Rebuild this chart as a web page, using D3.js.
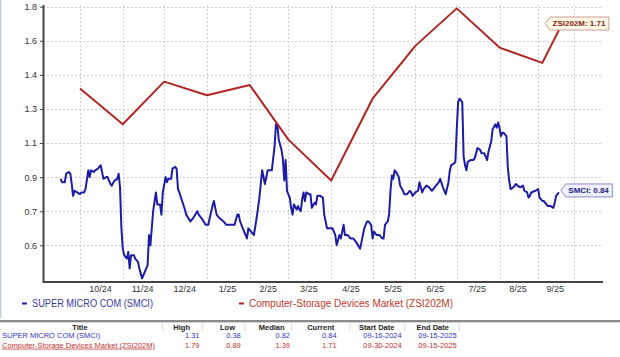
<!DOCTYPE html>
<html><head><meta charset="utf-8">
<script src="https://cdn.jsdelivr.net/npm/d3@7"></script>
<style>body{margin:0;background:#fff}svg{display:block;font-family:"Liberation Sans",Arial,sans-serif}</style>
</head><body>
<script>
// ---------- data ----------
const smciDates = ["24-09-16","24-09-17","24-09-19","24-09-20","24-09-22","24-09-23","24-09-24","24-09-25","24-09-26","24-09-28","24-09-30",
"24-10-01","24-10-03","24-10-04","24-10-06","24-10-07","24-10-08","24-10-10","24-10-11","24-10-13","24-10-15","24-10-16","24-10-17","24-10-19","24-10-20","24-10-22","24-10-23","24-10-25","24-10-27","24-10-28","24-10-29","24-10-30","24-10-31",
"24-11-01","24-11-03","24-11-04","24-11-05","24-11-06","24-11-08","24-11-09","24-11-11","24-11-12","24-11-14","24-11-15","24-11-17","24-11-18","24-11-19","24-11-20","24-11-21","24-11-22","24-11-24","24-11-25","24-11-27","24-11-28","24-11-29",
"24-12-01","24-12-02","24-12-03","24-12-05","24-12-06","24-12-08","24-12-09","24-12-10","24-12-11","24-12-13","24-12-15","24-12-16","24-12-19","24-12-21","24-12-24","24-12-25","24-12-27","24-12-30",
"25-01-01","25-01-02","25-01-04","25-01-05","25-01-07","25-01-09","25-01-12","25-01-14","25-01-15","25-01-18","25-01-20","25-01-22","25-01-23","25-01-24","25-01-26","25-01-28","25-01-29","25-01-30",
"25-02-01","25-02-03","25-02-05","25-02-07","25-02-09","25-02-11","25-02-13","25-02-15","25-02-16","25-02-18","25-02-19","25-02-20","25-02-21","25-02-23","25-02-24","25-02-25","25-02-26","25-02-27",
"25-03-01","25-03-02","25-03-03","25-03-04","25-03-06","25-03-07","25-03-08","25-03-09","25-03-10","25-03-11","25-03-12","25-03-13","25-03-15","25-03-16","25-03-17","25-03-19","25-03-20","25-03-21","25-03-23","25-03-25","25-03-26","25-03-28","25-03-30",
"25-04-01","25-04-03","25-04-04","25-04-06","25-04-07","25-04-09","25-04-10","25-04-12","25-04-14","25-04-16","25-04-18","25-04-21","25-04-22","25-04-24","25-04-26","25-04-27","25-04-29","25-04-30",
"25-05-01","25-05-03","25-05-05","25-05-07","25-05-08","25-05-09","25-05-11","25-05-12","25-05-13","25-05-14","25-05-15","25-05-16","25-05-17","25-05-19","25-05-20","25-05-22","25-05-23","25-05-25","25-05-27","25-05-28","25-05-29","25-05-31",
"25-06-02","25-06-03","25-06-05","25-06-06","25-06-08","25-06-10","25-06-12","25-06-14","25-06-15","25-06-17","25-06-18","25-06-20","25-06-22","25-06-24","25-06-25","25-06-26","25-06-28","25-06-29","25-06-30",
"25-07-01","25-07-02","25-07-04","25-07-05","25-07-06","25-07-07","25-07-08","25-07-10","25-07-12","25-07-13","25-07-15","25-07-17","25-07-18","25-07-20","25-07-22","25-07-23","25-07-25","25-07-26","25-07-28","25-07-29","25-07-30","25-07-31",
"25-08-01","25-08-02","25-08-03","25-08-05","25-08-06","25-08-07","25-08-08","25-08-10","25-08-12","25-08-13","25-08-15","25-08-17","25-08-18","25-08-20","25-08-21","25-08-22","25-08-23","25-08-26","25-08-28","25-08-29","25-08-31",
"25-09-01","25-09-03","25-09-04","25-09-06","25-09-08","25-09-09","25-09-10","25-09-12"];
const smciValues = [0.89,0.87,0.87,0.92,0.93,0.92,0.86,0.79,0.82,0.81,0.80,
0.81,0.81,0.83,0.94,0.90,0.94,0.93,0.94,0.95,0.97,0.93,0.89,0.90,0.90,0.86,0.85,0.88,0.89,0.92,0.84,0.65,0.59,
0.57,0.56,0.58,0.53,0.57,0.57,0.56,0.55,0.53,0.50,0.51,0.53,0.54,0.63,0.60,0.65,0.70,0.81,0.74,0.74,0.69,0.81,
0.90,0.87,0.89,0.89,0.95,0.96,0.95,0.83,0.81,0.76,0.71,0.69,0.67,0.68,0.70,0.69,0.68,0.66,
0.66,0.68,0.73,0.76,0.69,0.68,0.67,0.66,0.66,0.66,0.66,0.69,0.69,0.67,0.65,0.63,0.62,0.65,
0.64,0.63,0.68,0.78,0.94,0.86,0.94,0.94,0.94,1.08,1.21,1.21,1.12,1.06,1.01,0.88,1.00,0.82,
0.78,0.72,0.69,0.74,0.71,0.73,0.71,0.70,0.77,0.81,0.76,0.81,0.80,0.80,0.72,0.75,0.74,0.79,0.79,0.78,0.69,0.65,0.65,
0.65,0.63,0.60,0.63,0.62,0.66,0.63,0.63,0.62,0.62,0.61,0.59,0.61,0.65,0.67,0.67,0.66,0.62,
0.64,0.63,0.63,0.62,0.62,0.66,0.67,0.69,0.82,0.91,0.89,0.94,0.93,0.90,0.85,0.82,0.80,0.80,0.82,0.81,0.79,0.81,
0.82,0.87,0.81,0.83,0.85,0.84,0.82,0.84,0.85,0.87,0.89,0.84,0.80,0.87,0.94,0.97,0.98,0.99,1.18,
1.32,1.33,1.32,1.02,0.97,0.94,0.99,1.00,1.00,1.01,1.07,1.06,1.04,1.04,1.00,1.05,1.11,1.18,1.21,1.19,1.22,1.19,
1.14,1.16,1.16,1.14,0.96,0.88,0.83,0.84,0.86,0.85,0.84,0.85,0.82,0.81,0.78,0.79,0.81,0.82,0.83,0.78,0.76,
0.76,0.74,0.73,0.73,0.72,0.75,0.79,0.81];

const zsiDates = ["24-09-30","24-10-31","24-11-30","24-12-31","25-01-31","25-02-28","25-03-31","25-04-30","25-05-31","25-06-30","25-07-31","25-08-31","25-09-15"];
const zsiValues = [1.36,1.21,1.38,1.34,1.37,1.12,0.88,1.33,1.57,1.79,1.56,1.47,1.71];

const yTicks = [0.6,0.7,0.9,1.1,1.3,1.4,1.6,1.8];
const yFloor = 0.49;
const gridDates = ["24-09-30","24-10-31","24-11-30","24-12-31","25-01-31","25-02-28","25-03-31","25-04-30","25-05-31","25-06-30","25-07-31","25-08-28","25-09-23"];
const xLabels = ["10/24","11/24","12/24","1/25","2/25","3/25","4/25","5/25","6/25","7/25","8/25","9/25"];

const seriesNames = ["SUPER MICRO COM (SMCI)","Computer-Storage Devices Market (ZSI202M)"];
const seriesShort = ["SMCI","ZSI202M"];
const tableHeaders = ["Title","High","Low","Median","Current","Start Date","End Date"];
const highs = ["1.31","1.79"];
const lows = ["0.38","0.89"];
const medians = ["0.82","1.39"];
const currents = ["0.84","1.71"];
const startDates = ["09-16-2024","09-30-2024"];
const endDates = ["09-15-2025","09-15-2025"];

// ---------- layout ----------
const W = 620, H = 357;
const P = {left:43, right:602, top:5, bottom:282};
const parse = d3.utcParse("%y-%m-%d");
const blue = "#1c1ca8", red = "#b32424";

const svg = d3.select("body").append("svg").attr("width", W).attr("height", H);
svg.append("rect").attr("width", W).attr("height", H).attr("fill", "#fff");
svg.append("line").attr("x1",0.75).attr("x2",0.75).attr("y1",0).attr("y2",318)
  .attr("stroke","#c4cfdc").attr("stroke-width",1.5);

const x = d3.scaleUtc().domain([parse("24-09-30"), parse("25-09-15")]).range([80, 563]);
const yStep = 34.09, y06 = 245.3;
const y = d3.scaleLinear()
  .domain([yFloor, ...yTicks])
  .range([P.bottom - 0.3, ...yTicks.map((t, i) => y06 - i * yStep)]);

// grid
const grid = svg.append("g").attr("stroke", "#cfcfcf").attr("stroke-dasharray", "2,2").attr("stroke-width", 1);
grid.selectAll(".h").data(yTicks).join("line")
  .attr("x1", P.left).attr("x2", P.right)
  .attr("y1", d => Math.round(y(d)) + 0.5).attr("y2", d => Math.round(y(d)) + 0.5);
const gd = gridDates.map(parse);
grid.selectAll(".v").data(gd).join("line")
  .attr("x1", d => Math.round(x(d)) + 0.5).attr("x2", d => Math.round(x(d)) + 0.5)
  .attr("y1", P.top).attr("y2", P.bottom);

// axes
const yAxis = svg.append("g").attr("transform", `translate(${P.left},0)`)
  .call(d3.axisLeft(y).tickValues(yTicks).tickSize(3).tickSizeOuter(0).tickPadding(3).tickFormat(d3.format(".1f")));
yAxis.select(".domain").remove();
yAxis.selectAll(".tick line").attr("stroke", "#444");
yAxis.selectAll("text").attr("font-size", 9).attr("fill", "#333").attr("font-family", "Liberation Sans, Arial, sans-serif");

const mids = gd.slice(0, -1).map((d, i) => new Date((+d + +gd[i + 1]) / 2 - 86400000));
const xAxis = svg.append("g").attr("transform", `translate(0,${P.bottom})`)
  .call(d3.axisBottom(x).tickValues(mids).tickSize(0).tickPadding(4).tickFormat((d, i) => xLabels[i]));
xAxis.select(".domain").remove();
xAxis.selectAll("text").attr("font-size", 9).attr("fill", "#333").attr("font-family", "Liberation Sans, Arial, sans-serif");

svg.append("line").attr("x1", P.left + 0.5).attr("x2", P.left + 0.5).attr("y1", P.top).attr("y2", P.bottom + 1)
  .attr("stroke", "#444").attr("stroke-width", 2);
svg.append("line").attr("x1", P.left).attr("x2", 603).attr("y1", P.bottom).attr("y2", P.bottom)
  .attr("stroke", "#444").attr("stroke-width", 2);

// series
const smci = smciDates.map((d, i) => ({date: parse(d), v: smciValues[i]}));
const zsi = zsiDates.map((d, i) => ({date: parse(d), v: zsiValues[i]}));
const line = d3.line().x(d => x(d.date)).y(d => y(d.v));
svg.append("path").datum(smci).attr("d", line).attr("fill", "none").attr("stroke", blue)
  .attr("stroke-width", 2).attr("stroke-linejoin", "round");
svg.append("path").datum(zsi).attr("d", line).attr("fill", "none").attr("stroke", red)
  .attr("stroke-width", 2).attr("stroke-linejoin", "round");

// callouts
function callout(tx, ty, text, fill, stroke, color) {
  const g = svg.append("g");
  const path = g.append("path");
  const t = g.append("text").attr("x", tx + 7.5).attr("y", ty).attr("dy", "0.34em")
    .attr("font-size", 8).attr("font-weight", "bold").attr("fill", color).text(text);
  const w = t.node().getComputedTextLength();
  const r = tx + 7.5 + w + 3.5;
  path.attr("d", `M${tx},${ty} L${tx + 5},${ty - 6.5} H${r} V${ty + 6.5} H${tx + 5} Z`)
    .attr("fill", fill).attr("stroke", stroke).attr("stroke-width", 1);
}
const lastS = smci[smci.length - 1], lastZ = zsi[zsi.length - 1];
callout(x(lastS.date) + 2, y(lastS.v) - 2, `${seriesShort[0]}: ${currents[0]}`, "#eef0ff", "#8c8cc8", "#23237a");
callout(x(lastZ.date) - 18, y(lastZ.v) + 1.5, `${seriesShort[1]}: ${currents[1]}`, "#fffbe4", "#d09a9a", "#8a1c1c");

// legend
const legColors = ["#3a3aa0", "#c0392b"];
const legX = [22, 239];
seriesNames.forEach((n, i) => {
  svg.append("line").attr("x1", legX[i]).attr("x2", legX[i] + 5).attr("y1", 303.5).attr("y2", 303.5)
    .attr("stroke", i ? red : blue).attr("stroke-width", 2);
  const t = svg.append("text").attr("x", legX[i] + 10).attr("y", 307).attr("font-size", 10)
    .attr("fill", legColors[i]).text(n);
  if (i === 0) t.attr("textLength", 121).attr("lengthAdjust", "spacingAndGlyphs");
});

// table
svg.append("rect").attr("x", 0).attr("y", 320).attr("width", W).attr("height", 2).attr("fill", "#8a8a8a");
svg.append("rect").attr("x", 0).attr("y", 322).attr("width", W).attr("height", 1).attr("fill", "#d2d2d2");
const sepX = [162.7, 202.3, 245, 291.7, 350, 405, 459.3];
svg.selectAll(".sep").data(sepX).join("line")
  .attr("x1", d => d).attr("x2", d => d).attr("y1", 323).attr("y2", 331)
  .attr("stroke", "#dddddd").attr("stroke-width", 1);
const headX = [80, 181.7, 227.5, 271.7, 320.7, 376.7, 432.7];
svg.selectAll(".hd").data(tableHeaders).join("text")
  .attr("x", (d, i) => headX[i]).attr("y", 329.5).attr("text-anchor", "middle")
  .attr("font-size", 7.5).attr("font-weight", "bold").attr("fill", "#222").text(d => d);
const cols = [highs, lows, medians, currents, startDates, endDates];
const colRight = [199.5, 240.8, 290, 336.7, 401.7, 456.7];
const rowY = [338.4, 347.7];
const rowColors = ["#3434c8", "#c43030"];
seriesNames.forEach((n, r) => {
  const t = svg.append("text").attr("x", 2).attr("y", rowY[r]).attr("font-size", 7.5)
    .attr("fill", rowColors[r]).text(n);
  if (r === 1) t.attr("text-decoration", "underline");
  cols.forEach((c, j) => {
    svg.append("text").attr("x", colRight[j]).attr("y", rowY[r]).attr("text-anchor", "end")
      .attr("font-size", 7.5).attr("fill", rowColors[r]).text(c[r]);
  });
});
</script>
</body></html>
